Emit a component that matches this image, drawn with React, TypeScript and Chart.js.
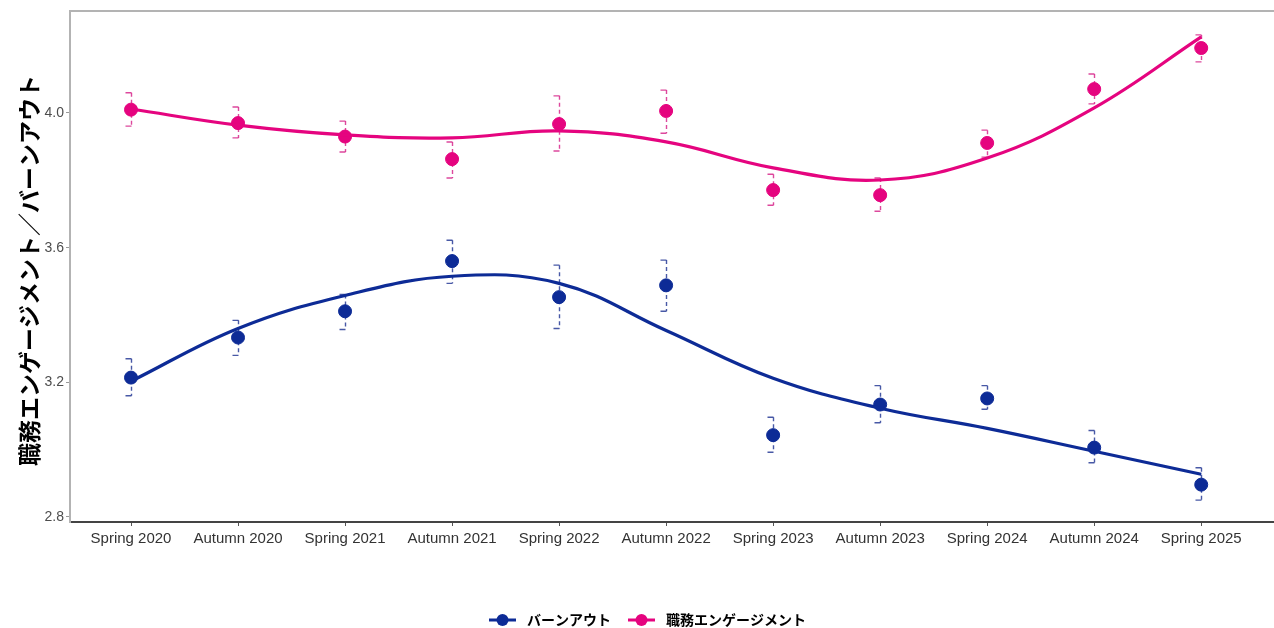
import React, { useEffect, useRef } from "react";
import { Chart, registerables } from "chart.js";

Chart.register(...registerables);

const categories = [
  "Spring 2020", "Autumn 2020", "Spring 2021", "Autumn 2021", "Spring 2022", "Autumn 2022",
  "Spring 2023", "Autumn 2023", "Spring 2024", "Autumn 2024", "Spring 2025",
];
const yTicks = [2.8, 3.2, 3.6, 4.0];

const burnoutLabel = "バーンアウト";
const engagementLabel = "職務エンゲージメント";
const yTitle = "職務エンゲージメント／バーンアウト";

// observed means
const burnoutMean = [3.214, 3.333, 3.411, 3.56, 3.453, 3.488, 3.043, 3.134, 3.152, 3.006, 2.896];
const burnoutLow = [3.16, 3.28, 3.357, 3.494, 3.36, 3.411, 2.992, 3.08, 3.12, 2.961, 2.85];
const burnoutHigh = [3.27, 3.384, 3.461, 3.622, 3.548, 3.563, 3.096, 3.19, 3.19, 3.057, 2.946];
const burnoutSmooth = [3.203, 3.36, 3.458, 3.515, 3.494, 3.354, 3.212, 3.123, 3.063, 2.995, 2.927];

const engagementMean = [4.01, 3.97, 3.93, 3.863, 3.967, 4.006, 3.771, 3.756, 3.911, 4.071, 4.193];
const engagementLow = [3.961, 3.926, 3.884, 3.807, 3.887, 3.94, 3.726, 3.708, 3.869, 4.027, 4.152];
const engagementHigh = [4.06, 4.018, 3.976, 3.914, 4.051, 4.068, 3.818, 3.807, 3.949, 4.116, 4.232];
const engagementSmooth = [4.012, 3.964, 3.935, 3.926, 3.947, 3.914, 3.837, 3.801, 3.866, 4.015, 4.226];

const BLUE = "#0d2b96";
const PINK = "#e5047f";
const BLUE_BAR = "rgba(40,60,150,0.85)";
const PINK_BAR = "rgba(215,40,140,0.85)";

const toXY = (arr: number[]) => arr.map((v, i) => ({ x: i, y: v }));

const errorBarPlugin = {
  id: "errorBars",
  beforeDatasetsDraw(chart: any) {
    const { ctx, scales } = chart;
    const xs = scales.x;
    const ys = scales.y;
    const series = [
      { lo: burnoutLow, hi: burnoutHigh, color: BLUE_BAR },
      { lo: engagementLow, hi: engagementHigh, color: PINK_BAR },
    ];
    ctx.save();
    ctx.lineWidth = 1.4;
    for (const s of series) {
      ctx.strokeStyle = s.color;
      for (let i = 0; i < categories.length; i++) {
        const px = Math.round(xs.getPixelForValue(i)) + 0.5;
        const yt = ys.getPixelForValue(s.hi[i]);
        const yb = ys.getPixelForValue(s.lo[i]);
        ctx.setLineDash([4, 3]);
        ctx.beginPath();
        ctx.moveTo(px, yt);
        ctx.lineTo(px, yb);
        ctx.stroke();
        ctx.setLineDash([]);
        ctx.beginPath();
        ctx.moveTo(px - 6, yt);
        ctx.lineTo(px, yt);
        ctx.moveTo(px - 6, yb);
        ctx.lineTo(px, yb);
        ctx.stroke();
      }
    }
    ctx.restore();
  },
};

const framePlugin = {
  id: "frameAndText",
  afterDraw(chart: any) {
    const { ctx, chartArea } = chart;
    ctx.save();
    // top border
    ctx.strokeStyle = "#b3b3b3";
    ctx.lineWidth = 2;
    ctx.beginPath();
    ctx.moveTo(chartArea.left - 1, chartArea.top);
    ctx.lineTo(chartArea.right, chartArea.top);
    ctx.stroke();

    // y title
    ctx.save();
    ctx.translate(29, (chartArea.top + chartArea.bottom) / 2 + 4);
    ctx.rotate(-Math.PI / 2);
    ctx.fillStyle = "#000";
    ctx.font = 'bold 23px "Noto Sans CJK JP"';
    ctx.textAlign = "center";
    ctx.textBaseline = "middle";
    ctx.fillText(yTitle, 0, 0);
    ctx.restore();

    // legend
    const ly = 620;
    const items = [
      { label: burnoutLabel, color: BLUE, x0: 489 },
      { label: engagementLabel, color: PINK, x0: 628 },
    ];
    ctx.font = 'bold 14px "Noto Sans CJK JP"';
    ctx.textBaseline = "middle";
    ctx.textAlign = "left";
    for (const it of items) {
      ctx.strokeStyle = it.color;
      ctx.fillStyle = it.color;
      ctx.lineWidth = 3;
      ctx.beginPath();
      ctx.moveTo(it.x0, ly);
      ctx.lineTo(it.x0 + 27, ly);
      ctx.stroke();
      ctx.beginPath();
      ctx.arc(it.x0 + 13.5, ly, 6, 0, Math.PI * 2);
      ctx.fill();
      ctx.fillStyle = "#000";
      ctx.fillText(it.label, it.x0 + 38, ly);
    }
    ctx.restore();
  },
};

export default function App() {
  const ref = useRef<HTMLCanvasElement | null>(null);
  useEffect(() => {
    if (!ref.current) return;
    const chart = new Chart(ref.current, {
      type: "scatter",
      data: {
        datasets: [
          {
            label: burnoutLabel + " smooth",
            data: toXY(burnoutSmooth),
            showLine: true,
            borderColor: BLUE,
            borderWidth: 3.2,
            pointRadius: 0,
            tension: 0.4,
            order: 0,
          } as any,
          {
            label: engagementLabel + " smooth",
            data: toXY(engagementSmooth),
            showLine: true,
            borderColor: PINK,
            borderWidth: 3.2,
            pointRadius: 0,
            tension: 0.4,
            order: 0,
          },
          {
            label: burnoutLabel,
            data: toXY(burnoutMean),
            backgroundColor: BLUE,
            borderColor: BLUE,
            pointRadius: 6.5,
            order: 1,
          },
          {
            label: engagementLabel,
            data: toXY(engagementMean),
            backgroundColor: PINK,
            borderColor: PINK,
            pointRadius: 6.5,
            order: 1,
          },
        ],
      },
      options: {
        animation: false,
        responsive: true,
        maintainAspectRatio: false,
        layout: { autoPadding: false, padding: { top: 11, left: 0, right: 0, bottom: 0 } },
        plugins: {
          legend: { display: false },
          tooltip: { enabled: false },
        },
        scales: {
          x: {
            type: "linear",
            min: -0.57,
            max: 10.68,
            afterBuildTicks: (scale: any) => {
              scale.ticks = categories.map((_, i) => ({ value: i }));
            },
            afterFit: (scale: any) => {
              scale.height = 106;
              scale.paddingLeft = 0;
              scale.paddingRight = 0;
            },
            ticks: {
              callback: (v: any) => categories[v] ?? "",
              color: "#333333",
              font: { family: "'Liberation Sans', Arial", size: 15 },
              padding: 4,
              maxRotation: 0,
              autoSkip: false,
            },
            grid: {
              drawOnChartArea: false,
              drawTicks: true,
              tickLength: 4,
              tickColor: "#555555",
            },
            border: { display: true, color: "#444444", width: 2 },
          },
          y: {
            min: 2.785,
            max: 4.303,
            afterBuildTicks: (scale: any) => {
              scale.ticks = yTicks.map((v) => ({ value: v }));
            },
            afterFit: (scale: any) => {
              scale.width = 70;
              scale.paddingTop = 0;
              scale.paddingBottom = 0;
            },
            ticks: {
              callback: (v: any) => Number(v).toFixed(1),
              color: "#4d4d4d",
              font: { family: "'Liberation Sans', Arial", size: 14 },
              padding: 2,
            },
            grid: {
              drawOnChartArea: false,
              drawTicks: true,
              tickLength: 4,
              tickColor: "#999999",
            },
            border: { display: true, color: "#b3b3b3", width: 2 },
          },
        },
      },
      plugins: [errorBarPlugin, framePlugin],
    });
    return () => chart.destroy();
  }, []);

  return (
    <div style={{ position: "absolute", left: 0, top: 0, width: 1274, height: 628, background: "#fff" }}>
      <canvas ref={ref} style={{ display: "block" }} />
    </div>
  );
}
